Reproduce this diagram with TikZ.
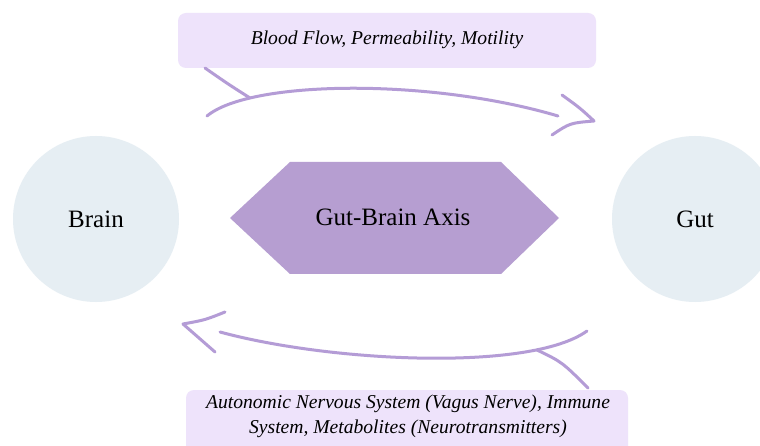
\documentclass[tikz,border=0pt]{standalone}
\usepackage{fontspec}
\setmainfont{LiberationSerif}[Extension=.ttf, UprightFont=*-Regular, ItalicFont=*-Italic, BoldFont=*-Bold, BoldItalicFont=*-BoldItalic]
\definecolor{circfill}{HTML}{E6EEF3}
\definecolor{hexfill}{HTML}{B69ED1}
\definecolor{boxfill}{HTML}{EEE3FB}
\definecolor{arrcol}{HTML}{B49CD6}
\tikzset{
  circnode/.style={circle, fill=circfill, minimum size=166pt, inner sep=0pt, font=\fontsize{25}{30}\selectfont},
  labelbox/.style={rounded corners=8pt, fill=boxfill, inner sep=0pt},
  labeltext/.style={font=\fontsize{19.6}{25}\selectfont\itshape, align=center, inner sep=0pt},
  sketchline/.style={draw=arrcol, line width=3pt, line cap=round, line join=round},
}
\begin{document}
\begin{tikzpicture}[x=1pt,y=-1pt]
\useasboundingbox (0,0) rectangle (760,446);
\clip (0,0) rectangle (760,446);
\fill[white] (0,0) rectangle (760,446);
% circles
\node[circnode] (brain) at (96,219) {Brain};
\node[circnode] (gut) at (695,219) {Gut};
% hexagon
\fill[hexfill] (230,218) -- (290,162) -- (501,162) -- (559,218) -- (501,274) -- (290,274) -- cycle;
\node[font=\fontsize{25}{30}\selectfont, inner sep=0pt] (axis) at (393,217) {Gut-Brain Axis};
% label boxes
\node[labelbox, minimum width=418pt, minimum height=55pt] (topbox) at (387,40.5) {};
\node[labeltext] (toplabel) at (387,40) {Blood Flow, Permeability, Motility};
\node[labelbox, minimum width=442pt, minimum height=66pt] (botbox) at (407,423) {};
\node[labeltext] (botlabel) at (408,416.5) {Autonomic Nervous System (Vagus Nerve), Immune\\System, Metabolites (Neurotransmitters)};
% top arrow (brain -> gut)
\coordinate (ts) at (207,116);
\coordinate (te) at (558,116);
\coordinate (tj) at (250,98);
\coordinate (tt) at (205,68);
\coordinate (th1) at (562,95);
\coordinate (thtip) at (594,121);
\coordinate (th2) at (552,135);
\draw[sketchline] (ts) .. controls (250,80) and (430,78) .. (te);
\draw[sketchline] (tt) .. controls (228,84) .. (tj);
\draw[sketchline] (th1) .. controls (580,108) .. (thtip) .. controls (570,123) .. (th2);
% bottom arrow (gut -> brain)
\coordinate (bs) at (587,331);
\coordinate (be) at (220,332);
\coordinate (bj) at (537,350);
\coordinate (bt) at (588,388);
\coordinate (bh1) at (225,312);
\coordinate (bhtip) at (183,324);
\coordinate (bh2) at (215,352);
\draw[sketchline] (bs) .. controls (530,372) and (330,362) .. (be);
\draw[sketchline] (bj) .. controls (562,362) .. (bt);
\draw[sketchline] (bh1) .. controls (205,320) .. (bhtip) -- (bh2);
\end{tikzpicture}
\end{document}
